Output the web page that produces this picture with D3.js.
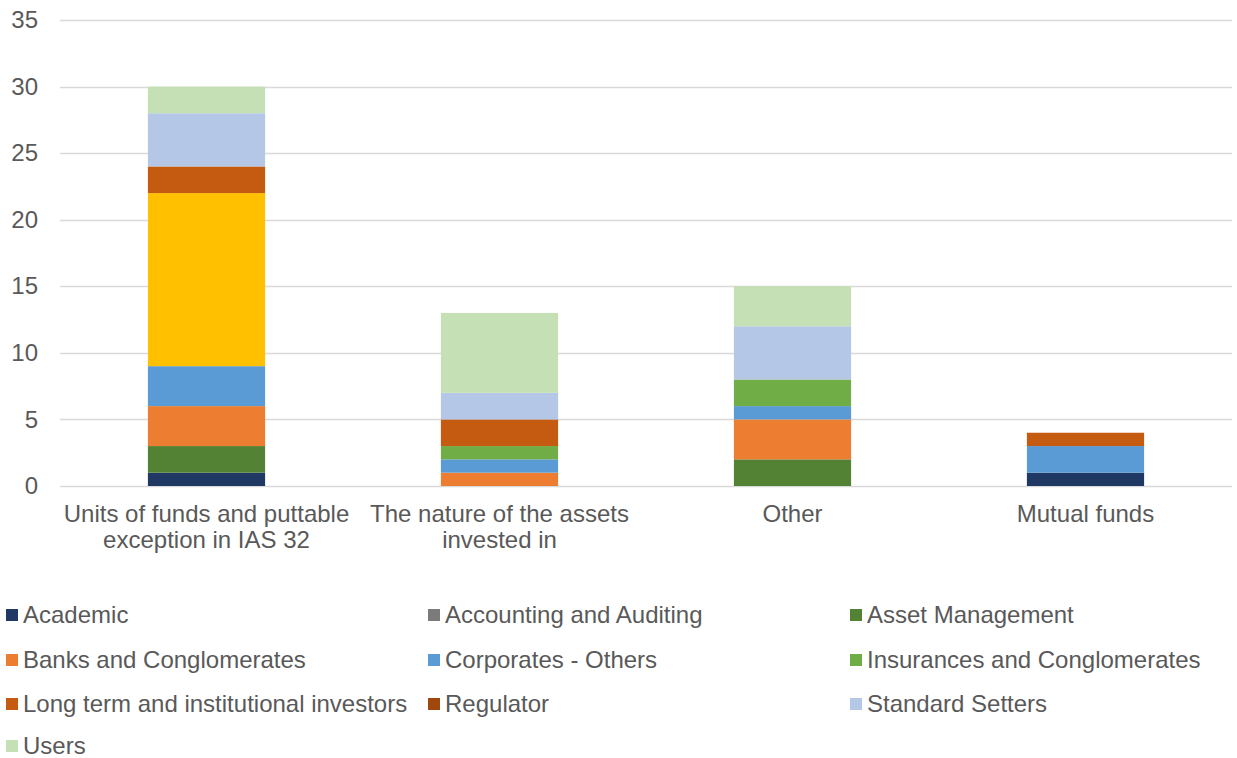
<!DOCTYPE html>
<html>
<head>
<meta charset="utf-8">
<script src="https://cdnjs.cloudflare.com/ajax/libs/d3/7.8.5/d3.min.js"></script>
<style>
  body { margin: 0; background: #fff; }
  svg { display: block; font-family: "Liberation Sans", Arial, sans-serif; }
</style>
</head>
<body>
<svg id="chart" width="1237" height="758"></svg>
<script>
// categories (line breaks as in the picture)
const categories = [
  ['Units of funds and puttable', 'exception in IAS 32'],
  ['The nature of the assets', 'invested in'],
  ['Other'],
  ['Mutual funds']
]

// series, bottom of stack first
const seriesNames = [
  'Academic', 'Accounting and Auditing', 'Asset Management', 'Banks and Conglomerates',
  'Corporates - Others', 'Insurances and Conglomerates', 'Preparers',
  'Long term and institutional investors', 'Regulator', 'Standard Setters', 'Users'
]
const seriesColors = [
  '#203864', '#7b7b7b', '#548235', '#ed7d31',
  '#5b9bd5', '#70ad47', '#ffc000',
  '#c55a11', '#9e480e', '#b4c7e7', '#c5e0b4'
]
// the yellow series has no entry in the legend
const inLegend = [true, true, true, true, true, true, false, true, true, true, true]

const academic = [1, 0, 0, 1]
const accounting = [0, 0, 0, 0]
const assetMgmt = [2, 0, 2, 0]
const banks = [3, 1, 3, 0]
const corporates = [3, 1, 1, 2]
const insurances = [0, 1, 2, 0]
const preparers = [13, 0, 0, 0]
const longTerm = [2, 2, 0, 1]
const regulator = [0, 0, 0, 0]
const standardSetters = [4, 2, 4, 0]
const users = [2, 6, 3, 0]

const yTicks = [0, 5, 10, 15, 20, 25, 30, 35]

const seriesValues = [academic, accounting, assetMgmt, banks, corporates, insurances,
  preparers, longTerm, regulator, standardSetters, users]

const table = categories.map((c, i) => {
  const row = { idx: i }
  seriesNames.forEach((s, j) => { row[s] = seriesValues[j][i] })
  return row
})

const svg = d3.select('#chart')
const margin = { left: 60, right: 5, top: 20, bottom: 272 }
const width = 1237 - margin.left - margin.right
const height = 758 - margin.top - margin.bottom

const g = svg.append('g').attr('transform', `translate(${margin.left},${margin.top})`)

const x = d3.scaleBand().domain(d3.range(categories.length)).range([0, width]).paddingInner(0.6).paddingOuter(0.3)
const y = d3.scaleLinear().domain([0, 35]).range([height, 0])

// grid
g.append('g').selectAll('line')
  .data(yTicks)
  .join('line')
  .attr('x1', 0).attr('x2', width)
  .attr('y1', d => Math.round(y(d)) + 0.5).attr('y2', d => Math.round(y(d)) + 0.5)
  .attr('stroke', '#d9d9d9').attr('stroke-width', 1.3)

// y axis labels
const yAxis = g.append('g')
  .call(d3.axisLeft(y).tickValues(yTicks).tickSize(0).tickPadding(22))
yAxis.select('.domain').remove()
yAxis.selectAll('text')
  .attr('font-size', 24).attr('fill', '#595959')
  .attr('font-family', '"Liberation Sans", Arial, sans-serif')

// stacked bars
const stack = d3.stack().keys(seriesNames)
const layers = stack(table)

g.append('g').selectAll('g')
  .data(layers)
  .join('g')
  .attr('fill', (d, i) => seriesColors[i])
  .selectAll('rect')
  .data(d => d)
  .join('rect')
  .attr('x', d => x(d.data.idx))
  .attr('width', x.bandwidth())
  .attr('y', d => y(d[1]))
  .attr('height', d => y(d[0]) - y(d[1]))

// category labels
const xl = g.append('g').attr('transform', `translate(0,${height})`)
xl.selectAll('text')
  .data(categories)
  .join('text')
  .attr('x', (d, i) => x(i) + x.bandwidth() / 2)
  .attr('y', 36)
  .attr('text-anchor', 'middle')
  .attr('font-size', 24)
  .attr('fill', '#595959')
  .selectAll('tspan')
  .data(d => d)
  .join('tspan')
  .attr('x', function() { return d3.select(this.parentNode).attr('x') })
  .attr('dy', (d, i) => i === 0 ? 0 : 26)
  .text(d => d)

// legend
const legendItems = seriesNames.map((s, i) => ({ name: s, color: seriesColors[i] }))
  .filter((d, i) => inLegend[i])
const colX = [6, 428, 850]
const rowY = [615, 660, 704, 746]

const leg = svg.append('g')
  .selectAll('g')
  .data(legendItems)
  .join('g')
  .attr('transform', (d, i) => `translate(${colX[i % 3]},${rowY[Math.floor(i / 3)]})`)
leg.append('rect')
  .attr('x', 0).attr('y', -6).attr('width', 12).attr('height', 12)
  .attr('fill', d => d.color)
leg.append('text')
  .attr('x', 17).attr('y', 7.5)
  .attr('font-size', 24)
  .attr('fill', '#595959')
  .text(d => d.name)
</script>
</body>
</html>
